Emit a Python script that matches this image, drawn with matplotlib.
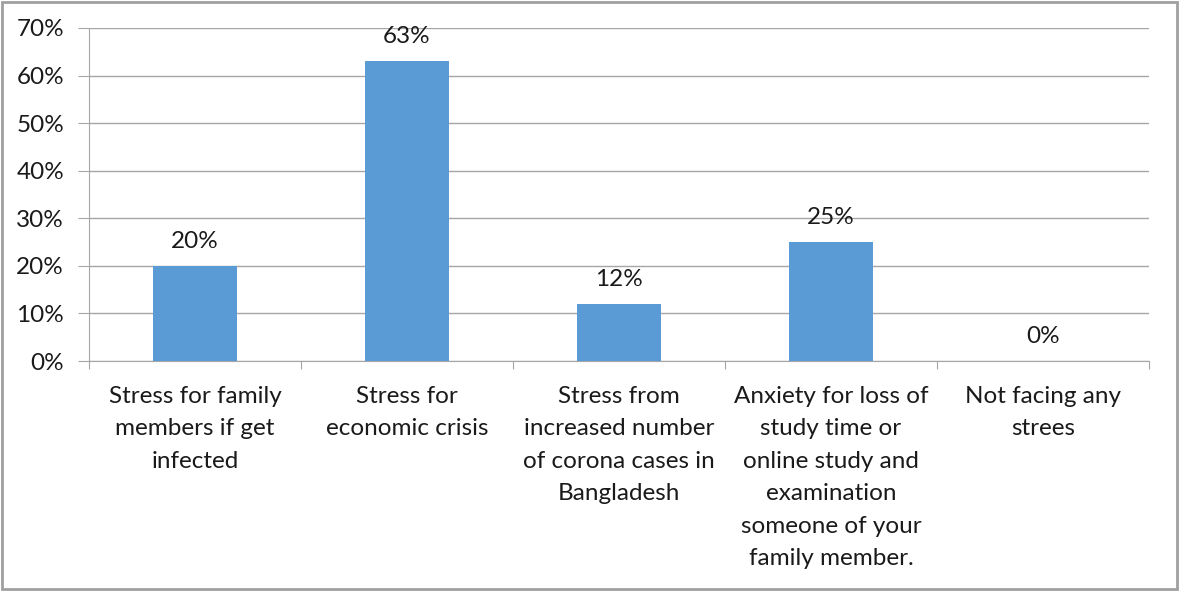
import matplotlib.pyplot as plt
from matplotlib.patches import Rectangle

plt.rcParams['font.family'] = ['Lato', 'DejaVu Sans']

categories = ["Stress for family\nmembers if get\ninfected",
              "Stress for\neconomic crisis",
              "Stress from\nincreased number\nof corona cases in\nBangladesh",
              "Anxiety for loss of\nstudy time or\nonline study and\nexamination\nsomeone of your\nfamily member.",
              "Not facing any\nstrees"]
values = [20, 63, 12, 25, 0]
yticks = [0, 10, 20, 30, 40, 50, 60, 70]

fs = 17.5

fig = plt.figure(figsize=(11.79, 5.91), dpi=100)
ax = fig.add_axes([89/1179, 1-361/591, 1060/1179, 333/591])

x = list(range(len(values)))
ax.bar(x, values, width=0.4, color='#5B9BD5', zorder=3)
for xi, v in zip(x, values):
    ax.annotate(f"{v}%", (xi, v), xytext=(0, 10), textcoords='offset points',
                ha='center', va='bottom', fontsize=fs, color='#1a1a1a')

ax.set_xlim(-0.5, len(values) - 0.5)
ax.set_ylim(0, 70)
ax.set_yticks(yticks)
ax.set_yticklabels([f"{t}%" for t in yticks])
ax.yaxis.grid(True, color='#a6a6a6', linewidth=1, zorder=0)

ax.set_xticks([i - 0.5 for i in range(len(values) + 1)])
ax.set_xticklabels([])
ax.set_xticks(x, minor=True)
ax.set_xticklabels(categories, minor=True, fontsize=fs, color='#1a1a1a', linespacing=1.67, va='top')
ax.tick_params(axis='x', which='minor', length=0, pad=18)
ax.tick_params(axis='x', which='major', length=6, color='#a6a6a6', direction='out')
ax.tick_params(axis='y', length=8, color='#a6a6a6', labelsize=fs, labelcolor='#1a1a1a', pad=10)

for s in ['top', 'right']:
    ax.spines[s].set_visible(False)
for s in ['left', 'bottom']:
    ax.spines[s].set_color('#a6a6a6')

fig.patches.append(Rectangle((0.002, 0.003), 0.996, 0.994, transform=fig.transFigure,
                             fill=False, edgecolor='#a0a0a0', linewidth=2))

fig.savefig('out.png', dpi=100)
